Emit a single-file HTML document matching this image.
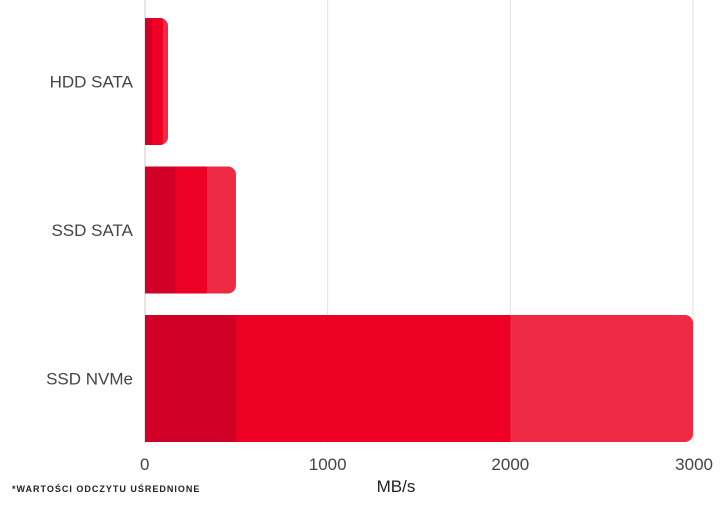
<!DOCTYPE html>
<html><head><meta charset="utf-8"><style>
body{margin:0;background:#fff;width:720px;height:501px;overflow:hidden}
svg text{font-family:"Liberation Sans",sans-serif}
</style></head><body>
<svg id="c" width="720" height="501"></svg>
<script>
const categories=["HDD SATA","SSD SATA","SSD NVMe"];
const seriesMin=[38,164,500];
const seriesAvg=[98,340,2000];
const seriesMax=[126,498,3000];
const ticks=[0,1000,2000,3000];
const colors=["#d10027","#ee0025","#ee2a45"];
const NS="http://www.w3.org/2000/svg";
const svg=document.getElementById('c');
const x0=145,x1=693,xMax=3000;
const xs=v=>x0+(x1-x0)*v/xMax;
const bandTop=18,bandStep=148.5,barH=127;
const ys=i=>bandTop+i*bandStep;
function mk(t,a){const e=document.createElementNS(NS,t);for(const k in a)e.setAttribute(k,a[k]);svg.appendChild(e);return e;}
ticks.forEach((t,i)=>{
  if(t>0){const g=mk('line',{x1:xs(t),x2:xs(t),y1:0,y2:443,stroke:'#e2e2e2','stroke-width':1});
  
  }
  const tx=mk('text',{x:xs(t),y:470,'text-anchor':i===ticks.length-1?'end':(i===0?'start':'middle'),'font-size':17,fill:'#444'});
  if(i===ticks.length-1)tx.setAttribute('x',xs(t)+20);
  if(i===0)tx.setAttribute('x',xs(t)-5);
  tx.textContent=t;
  
  
});
const ax=mk('line',{x1:x0,x2:x0,y1:0,y2:443,stroke:'#ccc','stroke-width':1});


const defs=mk('defs',{});
categories.forEach((c,i)=>{
  const y=ys(i);
  const cp=document.createElementNS(NS,'clipPath');cp.setAttribute('id','cp'+i);
  const r=document.createElementNS(NS,'rect');
  r.setAttribute('x',x0-10);r.setAttribute('y',y);r.setAttribute('width',xs(seriesMax[i])-x0+10);r.setAttribute('height',barH);r.setAttribute('rx',8);
  cp.appendChild(r);defs.appendChild(cp);
  const g=mk('g',{'clip-path':'url(#cp'+i+')'});
  
  
  const vals=[seriesMin[i],seriesAvg[i],seriesMax[i]];
  let prev=0;
  vals.forEach((v,j)=>{
    const s=document.createElementNS(NS,'rect');
    s.setAttribute('x',xs(prev));s.setAttribute('y',y);s.setAttribute('width',xs(v)-xs(prev)+(j<2?0.5:0));s.setAttribute('height',barH);s.setAttribute('fill',colors[j]);
    
    
    g.appendChild(s);prev=v;
  });
  const l=mk('text',{x:133,y:y+barH/2+6,'text-anchor':'end','font-size':17,fill:'#444'});
  l.textContent=c;
  
  
});
const xt=mk('text',{x:396,y:492,'text-anchor':'middle','font-size':17,fill:'#222'});
xt.textContent='MB/s';


const fn=mk('text',{x:12,y:492,'font-size':9,'font-weight':'bold',fill:'#222','letter-spacing':'1'});
fn.textContent='*WARTOŚCI ODCZYTU UŚREDNIONE';


</script>
</body></html>
